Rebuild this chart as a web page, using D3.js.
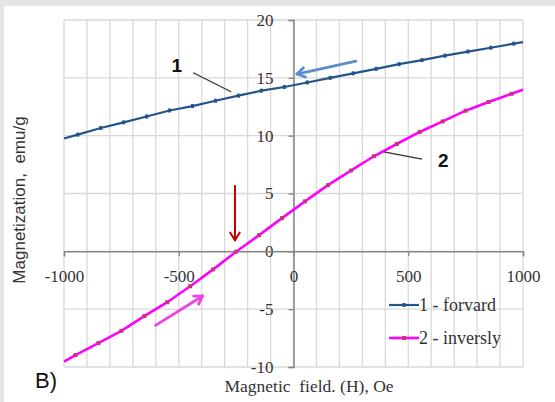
<!DOCTYPE html>
<html>
<head>
<meta charset="utf-8">
<script src="https://cdn.jsdelivr.net/npm/d3@7"></script>
<style>
  body { margin: 0; background: #e5e5e5; }
  svg { display: block; }
</style>
</head>
<body>
<script>
// curve 1 - forward
var fieldForward = [-1000, -940, -840, -740, -640, -540, -440, -340, -240, -140, -40,
                    60, 160, 260, 360, 460, 560, 660, 760, 860, 960, 1000];
var magForward = [9.75, 10.09, 10.66, 11.15, 11.66, 12.18, 12.56, 13.02, 13.46, 13.89, 14.21,
                  14.6, 15.0, 15.39, 15.78, 16.18, 16.53, 16.92, 17.27, 17.6, 17.96, 18.08];
// curve 2 - inversly
var fieldInverse = [-1000, -950, -850, -750, -650, -550, -450, -350, -250, -150, -50,
                    50, 150, 250, 350, 450, 550, 650, 750, 850, 950, 1000];
var magInverse = [-9.54, -8.97, -7.93, -6.87, -5.6, -4.4, -3.02, -1.56, -0.03, 1.4, 2.87,
                  4.32, 5.72, 6.98, 8.22, 9.28, 10.32, 11.23, 12.16, 12.91, 13.62, 13.97];

var xTicks = [-1000, -500, 0, 500, 1000];
var yTicks = [-10, -5, 0, 5, 10, 15, 20];
var legendLabels = ["1 - forvard", "2 - inversly"];

var width = 555, height = 402;
var blue = "#24548a", magenta = "#ff00ff", pinkMark = "#c8347a";

var x = d3.scaleLinear().domain([-1000, 1000]).range([64, 523]);
var y = d3.scaleLinear().domain([-10, 20]).range([367, 20]);

var svg = d3.select("body").append("svg")
    .attr("width", width).attr("height", height);

// white panel with grey border top/left
svg.append("rect").attr("x", 0).attr("y", 0).attr("width", width).attr("height", height).style("fill", "#e5e5e5");
svg.append("rect").attr("x", 4).attr("y", 6).attr("width", width - 4).attr("height", height - 6).style("fill", "#fff");

// gridlines
var vGrid = d3.range(-1000, 1001, 100);
svg.append("g").selectAll("line").data(vGrid).enter().append("line")
    .attr("x1", function(d) { return x(d); }).attr("x2", function(d) { return x(d); })
    .attr("y1", y(20)).attr("y2", y(-10))
    .style("stroke", "#d9d9d9").style("stroke-width", 1.3);
svg.append("g").selectAll("line").data(yTicks).enter().append("line")
    .attr("x1", x(-1000)).attr("x2", x(1000))
    .attr("y1", function(d) { return y(d); }).attr("y2", function(d) { return y(d); })
    .style("stroke", "#d9d9d9").style("stroke-width", 1.3);

// axes through zero
var plain = function(d) { return String(d); };
var yAxis = d3.axisLeft(y).tickValues(yTicks).tickSize(5).tickPadding(15).tickFormat(plain);
var xAxis = d3.axisBottom(x).tickValues(xTicks).tickSize(5).tickPadding(14).tickFormat(plain);

var gy = svg.append("g").attr("transform", "translate(" + x(0) + ",0)").call(yAxis);
var gx = svg.append("g").attr("transform", "translate(0," + y(0) + ")").call(xAxis);
[gx, gy].forEach(function(g) {
  g.select(".domain").style("stroke", "#868686").style("stroke-width", 1.5);
  g.selectAll(".tick line").style("stroke", "#868686").style("stroke-width", 1.3);
  g.selectAll("text")
    .style("font-family", "Liberation Serif, Times New Roman, serif")
    .style("font-size", "17px")
    .style("fill", "#333");
});

// series
var line = d3.line()
  .x(function(d) { return x(d[0]); })
  .y(function(d) { return y(d[1]); });

var fwd = d3.zip(fieldForward, magForward);
var inv = d3.zip(fieldInverse, magInverse);
var inside = function(d) { return d[0] > -1000 && d[0] < 1000; };

svg.append("path").datum(fwd).attr("d", line)
  .style("fill", "none").style("stroke", blue).style("stroke-width", 2.2);
svg.append("g").selectAll("rect")
  .data(fwd.filter(inside))
  .enter().append("rect")
  .attr("x", function(d) { return x(d[0]) - 1.5; })
  .attr("y", function(d) { return y(d[1]) - 2; })
  .attr("width", 3).attr("height", 4)
  .style("fill", blue);

svg.append("path").datum(inv).attr("d", line)
  .style("fill", "none").style("stroke", magenta).style("stroke-width", 2.6);
svg.append("g").selectAll("rect")
  .data(inv.filter(inside))
  .enter().append("rect")
  .attr("x", function(d) { return x(d[0]) - 2; })
  .attr("y", function(d) { return y(d[1]) - 2; })
  .attr("width", 4).attr("height", 4)
  .style("fill", pinkMark);

// annotations (in data units)
function arrow(x1, y1, x2, y2, color, w) {
  var px1 = x(x1), py1 = y(y1), px2 = x(x2), py2 = y(y2);
  var a = Math.atan2(py2 - py1, px2 - px1), L = 9, s = 0.55;
  svg.append("line").attr("x1", px1).attr("y1", py1).attr("x2", px2).attr("y2", py2)
    .style("stroke", color).style("stroke-width", w).style("stroke-linecap", "round");
  svg.append("path")
    .attr("d", "M" + (px2 - L * Math.cos(a - s)) + "," + (py2 - L * Math.sin(a - s)) +
               "L" + px2 + "," + py2 +
               "L" + (px2 - L * Math.cos(a + s)) + "," + (py2 - L * Math.sin(a + s)))
    .style("fill", "none").style("stroke", color).style("stroke-width", w)
    .style("stroke-linecap", "round").style("stroke-linejoin", "round");
}
arrow(272, 16.45, 15, 15.33, "#5a8fcc", 2.8);
arrow(-255, 5.65, -255, 0.95, "#c00000", 2);
arrow(-601, -6.4, -396, -3.86, "#e846e0", 2.8);

svg.append("line").attr("x1", x(-437)).attr("y1", y(15.44)).attr("x2", x(-272)).attr("y2", y(13.8))
  .style("stroke", "#333").style("stroke-width", 1.3);
svg.append("line").attr("x1", x(394)).attr("y1", y(8.59)).attr("x2", x(560)).attr("y2", y(7.98))
  .style("stroke", "#333").style("stroke-width", 1.3);

svg.append("text").attr("x", x(-508)).attr("y", y(15.5))
  .style("text-anchor", "middle").style("font-family", "Liberation Sans, Arial, sans-serif")
  .style("font-weight", "bold").style("font-size", "19px").style("fill", "#111").text("1");
svg.append("text").attr("x", x(630)).attr("y", y(7.29))
  .style("font-family", "Liberation Sans, Arial, sans-serif")
  .style("font-weight", "bold").style("font-size", "19px").style("fill", "#111").text("2");

// legend
var legend = svg.append("g").selectAll("g").data(legendLabels).enter().append("g")
  .attr("transform", function(d, i) { return "translate(389," + (305 + i * 33) + ")"; });
legend.append("line").attr("x1", 0).attr("x2", 30).attr("y1", 0).attr("y2", 0)
  .style("stroke", function(d, i) { return i ? magenta : blue; })
  .style("stroke-width", function(d, i) { return i ? 2.6 : 2.2; });
legend.append("rect")
  .attr("x", function(d, i) { return i ? 13 : 13.5; })
  .attr("y", -2)
  .attr("width", function(d, i) { return i ? 4 : 3; })
  .attr("height", 4)
  .style("fill", function(d, i) { return i ? pinkMark : blue; });
legend.append("text").attr("x", 30).attr("y", 6)
  .style("font-family", "Liberation Serif, Times New Roman, serif")
  .style("font-size", "18px").style("fill", "#333")
  .text(function(d) { return d; });

// axis titles
svg.append("text").attr("x", 309).attr("y", 392)
  .style("text-anchor", "middle")
  .style("font-family", "Liberation Serif, Times New Roman, serif")
  .style("font-size", "17.5px").style("fill", "#333")
  .style("white-space", "pre")
  .text("Magnetic  field. (H), Oe");

svg.append("text")
  .attr("transform", "translate(25,200) rotate(-90)")
  .style("text-anchor", "middle")
  .style("font-family", "Liberation Sans, Arial, sans-serif")
  .style("font-size", "17px").style("fill", "#333")
  .style("white-space", "pre")
  .text("Magnetization,  emu/g");

svg.append("text").attr("x", 35).attr("y", 388)
  .style("font-family", "Liberation Sans, Arial, sans-serif")
  .style("font-size", "22px").style("fill", "#111")
  .text("B)");
</script>
</body>
</html>
